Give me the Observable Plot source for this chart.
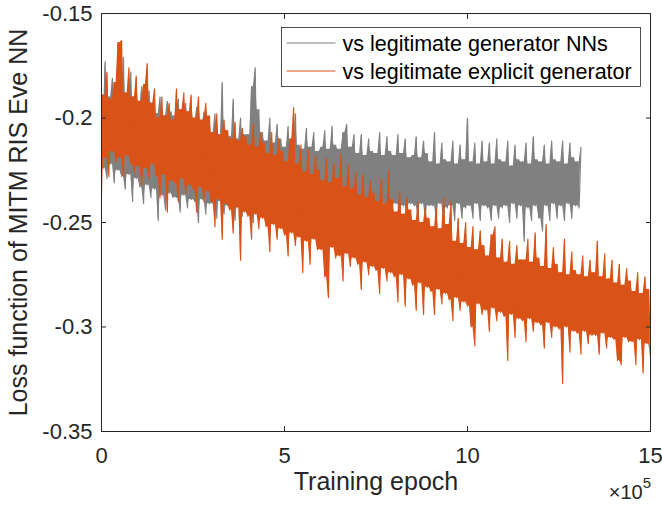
<!DOCTYPE html>
<html>
<head>
<meta charset="utf-8">
<script src="https://cdn.jsdelivr.net/npm/d3@7"></script>
<script src="https://cdn.jsdelivr.net/npm/@observablehq/plot@0.6"></script>
<style>
  html, body { margin: 0; padding: 0; background: #ffffff; }
  #chart { width: 662px; height: 508px; }
</style>
</head>
<body>
<div id="chart"></div>
<script>
// ---- data ----
const epochStep = 5000; // epochs between samples
const xTicks = [0, 500000, 1000000, 1500000];
const xTickLabels = ["0", "5", "10", "15"];
const yTicks = [-0.35, -0.3, -0.25, -0.2, -0.15];
const yTickLabels = ["-0.35", "-0.3", "-0.25", "-0.2", "-0.15"];
const seriesNames = ["vs legitimate generator NNs", "vs legitimate explicit generator"];
const seriesColors = ["#808080", "#D95319"];

// vs legitimate generator NNs (gray), 0 .. 1.31e6
const grayValues = [
  -0.200,-0.224,-0.173,-0.229,-0.190,-0.222,-0.181,-0.231,-0.191,-0.225,
  -0.188,-0.228,-0.171,-0.234,-0.189,-0.227,-0.178,-0.240,-0.190,-0.229,
  -0.194,-0.233,-0.185,-0.241,-0.195,-0.232,-0.187,-0.238,-0.193,-0.234,
  -0.198,-0.249,-0.190,-0.237,-0.199,-0.244,-0.192,-0.236,-0.197,-0.238,
  -0.199,-0.238,-0.191,-0.245,-0.200,-0.237,-0.193,-0.243,-0.198,-0.239,
  -0.203,-0.240,-0.195,-0.250,-0.204,-0.239,-0.197,-0.246,-0.202,-0.241,
  -0.207,-0.241,-0.198,-0.248,-0.208,-0.240,-0.183,-0.246,-0.206,-0.242,
  -0.209,-0.242,-0.191,-0.249,-0.210,-0.241,-0.200,-0.247,-0.208,-0.243,
  -0.208,-0.242,-0.185,-0.250,-0.176,-0.241,-0.196,-0.247,-0.207,-0.243,
  -0.211,-0.242,-0.200,-0.250,-0.212,-0.241,-0.203,-0.247,-0.210,-0.243,
  -0.214,-0.243,-0.204,-0.250,-0.215,-0.242,-0.198,-0.248,-0.213,-0.244,
  -0.215,-0.242,-0.205,-0.249,-0.214,-0.243,-0.207,-0.251,-0.216,-0.242,
  -0.214,-0.243,-0.206,-0.248,-0.215,-0.242,-0.204,-0.250,-0.213,-0.244,
  -0.215,-0.242,-0.207,-0.249,-0.203,-0.243,-0.214,-0.248,-0.208,-0.242,
  -0.217,-0.242,-0.208,-0.248,-0.218,-0.241,-0.210,-0.247,-0.216,-0.243,
  -0.217,-0.242,-0.207,-0.247,-0.218,-0.241,-0.209,-0.249,-0.216,-0.242,
  -0.218,-0.241,-0.208,-0.248,-0.217,-0.242,-0.210,-0.247,-0.219,-0.241,
  -0.218,-0.242,-0.209,-0.247,-0.219,-0.241,-0.211,-0.248,-0.217,-0.242,
  -0.221,-0.242,-0.207,-0.248,-0.222,-0.241,-0.212,-0.249,-0.220,-0.243,
  -0.221,-0.242,-0.211,-0.249,-0.222,-0.241,-0.213,-0.248,-0.220,-0.243,
  -0.200,-0.242,-0.221,-0.248,-0.212,-0.241,-0.222,-0.249,-0.211,-0.242,
  -0.221,-0.243,-0.212,-0.249,-0.222,-0.242,-0.210,-0.248,-0.220,-0.243,
  -0.221,-0.242,-0.211,-0.250,-0.223,-0.241,-0.213,-0.248,-0.220,-0.242,
  -0.221,-0.259,-0.212,-0.243,-0.222,-0.249,-0.209,-0.242,-0.220,-0.248,
  -0.221,-0.254,-0.213,-0.242,-0.222,-0.249,-0.211,-0.241,-0.220,-0.248,
  -0.221,-0.242,-0.211,-0.249,-0.222,-0.241,-0.212,-0.248,-0.219,-0.242,
  -0.221,-0.243,-0.214
];

// vs legitimate explicit generator (orange), 0 .. 1.5e6
const orangeValues = [
  -0.237,-0.189,-0.219,-0.178,-0.228,-0.191,-0.216,-0.183,-0.221,-0.164,
  -0.219,-0.163,-0.228,-0.188,-0.218,-0.176,-0.222,-0.190,-0.226,-0.180,
  -0.223,-0.192,-0.232,-0.184,-0.224,-0.174,-0.229,-0.193,-0.222,-0.186,
  -0.228,-0.200,-0.238,-0.190,-0.227,-0.199,-0.245,-0.193,-0.230,-0.201,
  -0.231,-0.186,-0.240,-0.196,-0.229,-0.188,-0.236,-0.197,-0.232,-0.189,
  -0.234,-0.200,-0.245,-0.190,-0.233,-0.201,-0.240,-0.193,-0.235,-0.199,
  -0.240,-0.207,-0.252,-0.198,-0.239,-0.208,-0.258,-0.201,-0.241,-0.206,
  -0.244,-0.210,-0.255,-0.202,-0.243,-0.211,-0.268,-0.205,-0.245,-0.209,
  -0.247,-0.213,-0.258,-0.203,-0.246,-0.214,-0.253,-0.207,-0.248,-0.212,
  -0.252,-0.217,-0.264,-0.207,-0.251,-0.218,-0.258,-0.210,-0.253,-0.216,
  -0.256,-0.221,-0.266,-0.210,-0.255,-0.195,-0.261,-0.222,-0.257,-0.213,
  -0.274,-0.226,-0.259,-0.215,-0.270,-0.227,-0.258,-0.218,-0.263,-0.225,
  -0.263,-0.230,-0.276,-0.219,-0.286,-0.231,-0.262,-0.222,-0.267,-0.229,
  -0.266,-0.217,-0.278,-0.233,-0.265,-0.222,-0.271,-0.234,-0.267,-0.226,
  -0.270,-0.237,-0.282,-0.227,-0.269,-0.238,-0.275,-0.230,-0.271,-0.236,
  -0.273,-0.240,-0.284,-0.229,-0.272,-0.241,-0.278,-0.225,-0.274,-0.239,
  -0.276,-0.245,-0.288,-0.235,-0.275,-0.246,-0.290,-0.238,-0.277,-0.244,
  -0.280,-0.249,-0.292,-0.240,-0.279,-0.250,-0.294,-0.243,-0.281,-0.248,
  -0.283,-0.252,-0.294,-0.243,-0.282,-0.253,-0.289,-0.238,-0.284,-0.251,
  -0.287,-0.240,-0.297,-0.259,-0.286,-0.248,-0.292,-0.260,-0.288,-0.250,
  -0.290,-0.262,-0.300,-0.252,-0.309,-0.263,-0.289,-0.254,-0.294,-0.261,
  -0.292,-0.266,-0.302,-0.256,-0.291,-0.252,-0.297,-0.267,-0.293,-0.258,
  -0.295,-0.269,-0.316,-0.259,-0.294,-0.270,-0.305,-0.261,-0.296,-0.268,
  -0.297,-0.268,-0.307,-0.258,-0.296,-0.269,-0.302,-0.255,-0.298,-0.267,
  -0.299,-0.271,-0.310,-0.251,-0.298,-0.272,-0.305,-0.262,-0.300,-0.270,
  -0.301,-0.274,-0.327,-0.258,-0.300,-0.275,-0.312,-0.264,-0.302,-0.273,
  -0.303,-0.275,-0.313,-0.266,-0.302,-0.276,-0.308,-0.268,-0.304,-0.274,
  -0.304,-0.259,-0.313,-0.276,-0.303,-0.265,-0.310,-0.277,-0.305,-0.268,
  -0.306,-0.279,-0.316,-0.270,-0.318,-0.280,-0.305,-0.272,-0.307,-0.278,
  -0.307,-0.283,-0.318,-0.274,-0.306,-0.284,-0.322,-0.276,-0.308,-0.282,
  -0.314
];

// ---- build tables ----
// Each sample plus the solid core that a very dense noisy trace fills in:
// the span shared by the two neighbouring segments of the trace.
function toTable(values) {
  const n = values.length;
  const pHi = (i) => Math.max(values[i], values[Math.min(i + 1, n - 1)]);
  const pLo = (i) => Math.min(values[i], values[Math.min(i + 1, n - 1)]);
  return values.map((v, i) => {
    const a = Math.max(i - 1, 0);
    return {epoch: i * epochStep, loss: v,
            lo: Math.max(pLo(a), pLo(i)), hi: Math.min(pHi(a), pHi(i))};
  });
}
const grayData = toTable(grayValues);
const orangeData = toTable(orangeValues);

const axisColor = "#262626";
const font = "'Liberation Sans', Arial, Helvetica, sans-serif";

const plot = Plot.plot({
  width: 662,
  height: 508,
  marginLeft: 101,
  marginRight: 12,
  marginTop: 13,
  marginBottom: 77,
  style: {fontFamily: font, fontSize: "22px", color: axisColor, background: "#ffffff", overflow: "visible"},
  x: {domain: [0, 1500000]},
  y: {domain: [-0.35, -0.15]},
  marks: [
    Plot.areaY(grayData, {x: "epoch", y1: "lo", y2: "hi", fill: seriesColors[0]}),
    Plot.lineY(grayData, {x: "epoch", y: "loss", stroke: seriesColors[0], strokeWidth: 1.2}),
    Plot.areaY(orangeData, {x: "epoch", y1: "lo", y2: "hi", fill: seriesColors[1]}),
    Plot.lineY(orangeData, {x: "epoch", y: "loss", stroke: seriesColors[1], strokeWidth: 1.2}),
    Plot.frame({stroke: axisColor, strokeWidth: 1}),
    Plot.axisX({ticks: xTicks, tickSize: -5, tickPadding: 21, label: null,
      tickFormat: (d) => xTickLabels[xTicks.indexOf(d)], stroke: axisColor, fill: axisColor}),
    Plot.axisX({anchor: "top", ticks: xTicks, tickSize: -5, label: null, tickFormat: () => "", stroke: axisColor}),
    Plot.axisY({ticks: yTicks, tickSize: -5, tickPadding: 14, label: null,
      tickFormat: (d) => yTickLabels[yTicks.indexOf(d)], stroke: axisColor, fill: axisColor}),
    Plot.axisY({anchor: "right", ticks: yTicks, tickSize: -5, label: null, tickFormat: () => "", stroke: axisColor}),
    Plot.text(["Training epoch"], {frameAnchor: "bottom", dy: 58, fontSize: 25, fill: axisColor, textAnchor: "middle"}),
    Plot.text(["Loss function of MITM RIS Eve NN"], {frameAnchor: "left", dx: -83, rotate: -90, fontSize: 25, fill: axisColor, textAnchor: "middle"})
  ]
});

document.getElementById("chart").appendChild(plot);

// ---- x10^5 exponent label and legend ----
const svg = d3.select(plot);
const sx = plot.scale("x"), sy = plot.scale("y");
const rightEdge = sx.apply(1500000);
const bottomEdge = sy.apply(-0.35);

const expo = svg.append("text")
  .attr("x", rightEdge + 1).attr("y", bottomEdge + 68)
  .attr("text-anchor", "end")
  .attr("fill", axisColor)
  .style("font-family", font).style("font-size", "20px");
expo.append("tspan").text("×10");
expo.append("tspan").attr("dy", -11).style("font-size", "15px").text("5");

const lg = svg.append("g");
const lx = 281.5, ly = 27.5, lw = 359, lh = 59;
lg.append("rect").attr("x", lx).attr("y", ly).attr("width", lw).attr("height", lh)
  .attr("fill", "#ffffff").attr("stroke", axisColor).attr("stroke-width", 0.8);
seriesNames.forEach((name, i) => {
  const yy = ly + 15.5 + i * 28;
  lg.append("line").attr("x1", lx + 5).attr("x2", lx + 54).attr("y1", yy).attr("y2", yy)
    .attr("stroke", seriesColors[i]).attr("stroke-width", 1.2);
  lg.append("text").attr("x", lx + 61).attr("y", yy).attr("dy", "0.35em")
    .attr("text-anchor", "start")
    .attr("fill", "#000000")
    .style("font-family", font).style("font-size", "21.5px").text(name);
});
</script>
</body>
</html>
